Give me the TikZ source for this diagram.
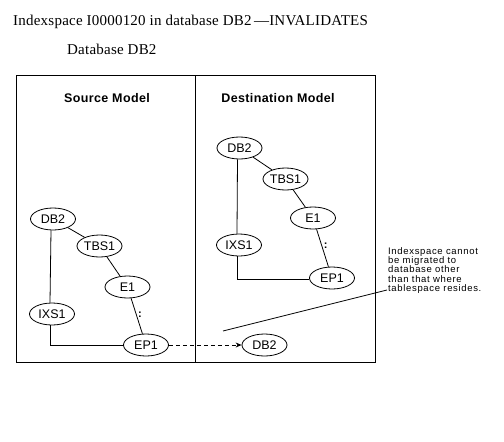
\documentclass[tikz,border=0pt]{standalone}
\usepackage{fontspec}
\setmainfont{Liberation Serif}
\newfontfamily\titlef[LetterSpace=1.5]{Liberation Serif}
\newfontfamily\arialf{Liberation Sans}
\newfontfamily\arialsp[LetterSpace=7]{Liberation Sans}
\newfontfamily\arialhd[LetterSpace=3]{Liberation Sans}
\usetikzlibrary{shapes.geometric,arrows.meta}
\tikzset{
  ent/.style={draw, ellipse, minimum width=45pt, minimum height=22pt, inner sep=0pt,
    font=\arialf\fontsize{12.5}{12.5}\selectfont, line width=0.8pt},
  conn/.style={line width=0.8pt},
  colon/.style={right, pos=0.45, inner sep=1.5pt, font=\arialf\bfseries\fontsize{11}{11}\selectfont},
  hdr/.style={font=\arialhd\bfseries\fontsize{12.5}{13}\selectfont, anchor=base, inner sep=0pt},
  ttl/.style={font=\titlef\fontsize{15}{16}\selectfont, anchor=base west, inner sep=0pt},
}
\begin{document}
\begin{tikzpicture}[x=1pt,y=-1pt]
\useasboundingbox[fill=white] (0,0) rectangle (504,442);
% titles
\node[ttl] (title) at (13,25) {Indexspace I0000120 in database DB2\,—INVALIDATES};
\node[ttl] (dbt) at (67,54) {Database DB2};
% frame
\draw[line width=0.9pt] (16,75) rectangle (375,362);
\draw[line width=0.9pt] (195,75) -- (195,362);
\node[hdr] (srch) at (107,102) {Source Model};
\node[hdr] (dsth) at (278,102) {Destination Model};
% source model
\node[ent] (sDB2) at (53,219) {DB2};
\node[ent] (sTBS1) at (99.5,246) {TBS1};
\node[ent] (sE1) at (127.5,287) {E1};
\node[ent] (sIXS1) at (52,314) {IXS1};
\node[ent] (sEP1) at (146,345) {EP1};
\draw[conn] (sDB2) -- (sTBS1);
\draw[conn] (sTBS1) -- (sE1);
\draw[conn] (sE1) -- node[colon] {:} (sEP1);
\draw[conn] ([xshift=-2pt]sDB2.south) -- ([xshift=-2pt]sIXS1.north);
\draw[conn] ([xshift=-2pt]sIXS1.south) |- (sEP1.west);
% destination model
\node[ent] (dDB2) at (239.5,148) {DB2};
\node[ent] (dTBS1) at (285.5,179) {TBS1};
\node[ent] (dE1) at (313,218) {E1};
\node[ent] (dIXS1) at (239,245) {IXS1};
\node[ent] (dEP1) at (332,278) {EP1};
\draw[conn] (dDB2) -- (dTBS1);
\draw[conn] (dTBS1) -- (dE1);
\draw[conn] (dE1) -- node[colon] {:} (dEP1);
\draw[conn] ([xshift=-2pt]dDB2.south) -- ([xshift=-2pt]dIXS1.north);
\draw[conn] ([xshift=-2pt]dIXS1.south) |- ([yshift=-1.5pt]dEP1.west);
% migration target
\node[ent] (tDB2) at (264.5,345) {DB2};
\draw[conn, dash pattern=on 4pt off 3pt, -{Stealth[length=6pt,width=5pt]}] (sEP1) -- (tDB2);
% annotation
\node[anchor=north west, inner sep=0pt, align=left,
  font=\arialsp\fontsize{9.5}{9.4}\selectfont] (note) at (388,247)
  {Indexspace cannot\\be migrated to\\database other\\than that where\\tablespace resides.};
\coordinate (na) at (387,290);
\coordinate (nb) at (223,331);
\draw[conn] (na) -- (nb);
\end{tikzpicture}
\end{document}
